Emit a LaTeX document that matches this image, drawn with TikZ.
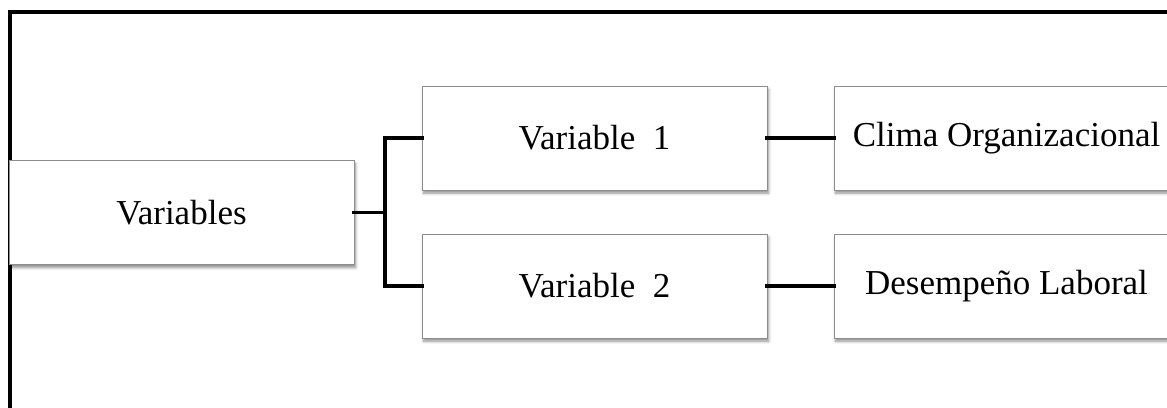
\documentclass[tikz,border=0pt]{standalone}
\usepackage{fontspec}
\setmainfont{Liberation Serif}
\usetikzlibrary{shadows.blur}

\tikzset{
  box/.style={
    draw=black!45, line width=0.5pt, fill=white,
    minimum width=172.5pt, minimum height=52pt,
    inner sep=0pt, outer sep=0pt,
    font=\fontsize{17.5}{21}\selectfont,
    blur shadow={shadow xshift=0.8pt, shadow yshift=-1.6pt,
                 shadow blur radius=1.4pt, shadow blur steps=6,
                 shadow opacity=45}
  },
  link/.style={line width=1.9pt, line cap=rect, line join=miter}
}

\begin{document}
\begin{tikzpicture}[x=0.5pt, y=-0.5pt]
  \useasboundingbox (0,0) rectangle (1167,407);
  \clip (0,0) rectangle (1167,407);

  % outer frame (open on the right and at the bottom)
  \draw[line width=1.6pt] (10,420) -- (10,12) -- (1190,12);

  % boxes
  \node[box] (vars)  at (181.5,212.5) {Variables};
  \node[box] (v1)    at (594.5,138)   {Variable~~1};
  \node[box] (v2)    at (594.5,286)   {Variable~~2};
  \node[box] (clima) at (1006.5,138)  {Clima Organizacional};
  \node[box] (desem) at (1006.5,286)  {Desempeño Laboral};

  % branch point of the bracket
  \coordinate (fork) at (385,212.5);

  % connectors
  \draw[link] (vars.east) -- (fork);
  \draw[link] (fork) |- (v1.west);
  \draw[link] (fork) |- (v2.west);
  \draw[link] (v1.east) -- (clima.west);
  \draw[link] (v2.east) -- (desem.west);
\end{tikzpicture}
\end{document}
